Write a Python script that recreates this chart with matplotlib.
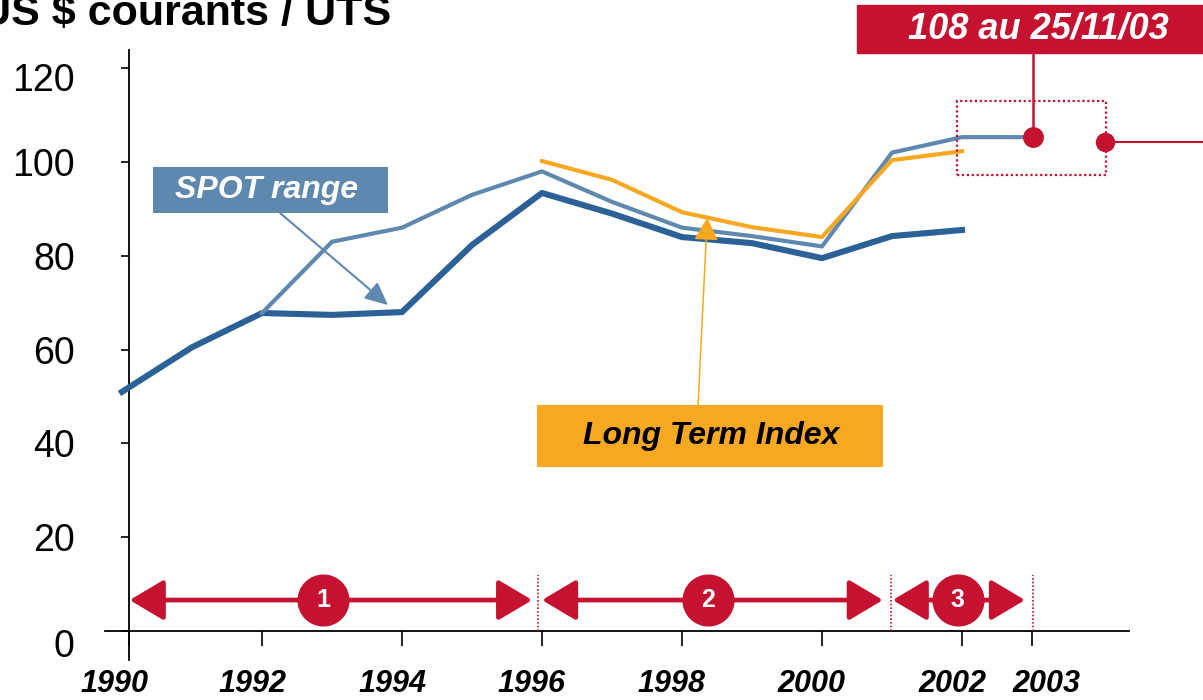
import matplotlib
matplotlib.use('Agg')
import matplotlib.pyplot as plt
from matplotlib.patches import Rectangle, FancyArrowPatch
import matplotlib.transforms as mtrans

# ---------------- data ----------------
years_low = [1990, 1991, 1992, 1993, 1994, 1995, 1996, 1997, 1998, 1999, 2000, 2001, 2002]
spot_low = [51.0, 60.5, 67.8, 67.4, 68.0, 82.3, 93.4, 89.0, 84.0, 82.7, 79.5, 84.2, 85.5]

years_high = [1992, 1993, 1994, 1995, 1996, 1997, 1998, 1999, 2000, 2001, 2002, 2003]
spot_high = [67.8, 83.0, 86.0, 93.0, 98.0, 91.5, 86.0, 84.2, 82.0, 102.0, 105.3, 105.3]

years_lt = [1996, 1997, 1998, 1999, 2000, 2001, 2002]
long_term = [100.2, 96.2, 89.3, 86.1, 84.0, 100.4, 102.3]

xtick_years = [1990, 1992, 1994, 1996, 1998, 2000, 2002, 2003]
xtick_labels = ['1990', '1992', '1994', '1996', '1998', '2000', '2002', '2003']
ytick_values = [0, 20, 40, 60, 80, 100, 120]

phase_labels = ['1', '2', '3']
phase_starts = [1990.11, 1996.0, 2001.01]
phase_ends = [1995.86, 2000.87, 2002.9]
phase_centers = [1992.87, 1998.37, 2001.94]
phase_dividers = [1995.94, 2000.99, 2003.01]

current_label = '108 au 25/11/03'
current_point = (2003.01, 105.3)
second_point = (2004.04, 104.3)

title = 'US $ courants / UTS'

# ---------------- style ----------------
RED = '#C41230'
DARK = '#2B6196'
LIGHT = '#5E88AE'
ORANGE = '#F7A823'
plt.rcParams['font.family'] = ['Liberation Sans', 'DejaVu Sans']

fig = plt.figure(figsize=(12.03, 7.0), dpi=100)
ax = fig.add_axes([105 / 1203, 1 - 660 / 700, 1024 / 1203, 610 / 700])
ax.set_xlim(1989.757, 2004.386)
ax.set_ylim(-6.18, 123.88)

for s in ['top', 'right']:
    ax.spines[s].set_visible(False)
ax.spines['left'].set_position(('data', 1990.1))
ax.spines['bottom'].set_position(('data', 0))
for s in ['left', 'bottom']:
    ax.spines[s].set_linewidth(1.3)
    ax.spines[s].set_color('black')

ax.set_yticks(ytick_values)
ax.set_yticklabels([str(v) for v in ytick_values], fontsize=27)
ax.tick_params(axis='y', direction='out', length=6, width=1.2, pad=33)
# small vertical nudges of the extreme labels (as in the original slide)
ynudge = {0: -12, 120: -9}
for v, lab in zip(ytick_values, ax.get_yticklabels()):
    if v in ynudge:
        lab.set_transform(lab.get_transform() +
                          mtrans.ScaledTranslation(0, ynudge[v] / 100, fig.dpi_scale_trans))

tick_pos = [1990.1] + xtick_years[1:]
ax.set_xticks(tick_pos)
ax.set_xticklabels(xtick_labels, fontsize=22, fontweight='bold', fontstyle='italic')
ax.tick_params(axis='x', direction='out', length=11, width=1.2, pad=16)
xnudge = [-15, -10, -10, -10, -10, -11, -10, 15]
for dx, lab in zip(xnudge, ax.get_xticklabels()):
    lab.set_transform(lab.get_transform() +
                      mtrans.ScaledTranslation(dx / 100, 0, fig.dpi_scale_trans))

# lines
ax.plot(years_low, spot_low, color=DARK, lw=4.4, zorder=3, clip_on=False)
ax.plot(years_high, spot_high, color=LIGHT, lw=3.0, zorder=4, clip_on=False)
ax.plot(years_lt, long_term, color=ORANGE, lw=3.0, zorder=5, clip_on=False)

# dotted highlight box
ax.add_patch(Rectangle((2001.93, 97.2), 2.13, 15.8, fill=False, edgecolor=RED,
                       ls=(0, (1, 1.2)), lw=1.6, zorder=6, clip_on=False))

# current value markers
ax.plot([current_point[0], current_point[0]], [current_point[1], 123.5], color=RED, lw=1.8,
        zorder=6, clip_on=False)
ax.plot([second_point[0], 2005.6], [second_point[1], second_point[1]], color=RED, lw=1.5,
        zorder=6, clip_on=False)
ax.plot(*current_point, 'o', color=RED, ms=14, zorder=7, clip_on=False)
ax.plot(*second_point, 'o', color=RED, ms=13, zorder=7, clip_on=False)

# red label box (figure coordinates)
fig.patches.append(Rectangle((857 / 1203, 1 - 53 / 700), 0.4, 48 / 700, color=RED,
                             transform=fig.transFigure, figure=fig, zorder=1))
fig.text(1038 / 1203, 1 - 29 / 700, current_label, color='white', fontsize=26,
         fontweight='bold', fontstyle='italic', ha='center', va='center', zorder=2)

# title
fig.text(-20 / 1203, 1 - 25 / 700, title, fontsize=31, fontweight='bold',
         ha='left', va='baseline')

# SPOT range label
ax.add_patch(Rectangle((1990.44, 89.1), 3.36, 9.8, facecolor=LIGHT, edgecolor='none', zorder=8))
ax.text(1992.07, 94.0, 'SPOT range', color='white', fontsize=23, fontweight='bold',
        fontstyle='italic', ha='center', va='center', zorder=9)
ax.add_patch(FancyArrowPatch((1992.26, 89.1), (1993.8, 69.5),
                             arrowstyle='-|>,head_length=14,head_width=6.5',
                             color=LIGHT, lw=1.5, shrinkA=0, shrinkB=0, zorder=8))

# Long Term Index label
ax.add_patch(Rectangle((1995.93, 35.0), 4.94, 13.2, facecolor=ORANGE, edgecolor='none', zorder=8))
ax.text(1998.42, 41.6, 'Long Term Index', color='black', fontsize=23, fontweight='bold',
        fontstyle='italic', ha='center', va='center', zorder=9)
ax.add_patch(FancyArrowPatch((1998.23, 48.2), (1998.36, 88.1),
                             arrowstyle='-|>,head_length=14,head_width=7.5',
                             color=ORANGE, lw=1.1, shrinkA=0, shrinkB=0, zorder=8))

# phase arrows
arrow_y = 6.6
for x0, x1, xc, lab in zip(phase_starts, phase_ends, phase_centers, phase_labels):
    ax.add_patch(FancyArrowPatch((x0, arrow_y), (x1, arrow_y),
                                 arrowstyle='<|-|>,head_length=21,head_width=12.5',
                                 color=RED, lw=3.4, shrinkA=0, shrinkB=0, zorder=8,
                                 clip_on=False))
    ax.plot(xc, arrow_y, 'o', color=RED, ms=36.5, zorder=9, clip_on=False)
    ax.text(xc, arrow_y, lab, color='white', fontsize=18, fontweight='bold',
            ha='center', va='center', zorder=10)
ax.vlines(phase_dividers, 0, 12.0, colors=RED, linestyles=(0, (1, 1.2)), lw=1.2, zorder=7)

fig.savefig('out.png', dpi=100)
